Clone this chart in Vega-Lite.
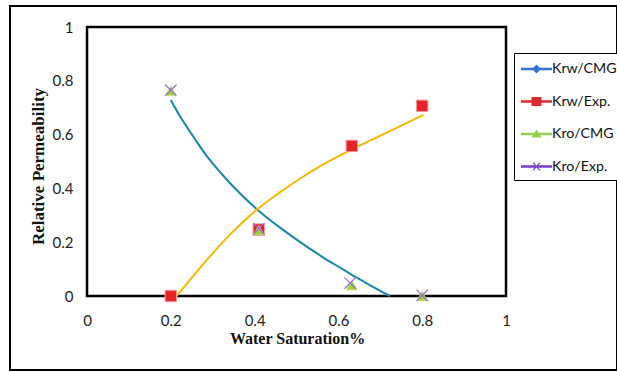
{
  "$schema": "https://vega.github.io/schema/vega-lite/v6.json",
  "width": 607,
  "height": 364,
  "autosize": "none",
  "padding": {"left": 10, "top": 6, "right": 0, "bottom": 2},
  "background": "white",
  "config": {
    "view": {"stroke": "#000", "strokeWidth": 2, "fill": "white"},
    "axis": {"grid": false, "domain": false, "ticks": false}
  },
  "datasets": {
    "frame": [{"sw": 0, "swEnd": 1, "kr": 0, "krEnd": 1}],
    "curves": [
      {"curve": "Kro", "sw": 0.200, "kr": 0.729},
      {"curve": "Kro", "sw": 0.222, "kr": 0.668},
      {"curve": "Kro", "sw": 0.254, "kr": 0.592},
      {"curve": "Kro", "sw": 0.286, "kr": 0.520},
      {"curve": "Kro", "sw": 0.318, "kr": 0.460},
      {"curve": "Kro", "sw": 0.350, "kr": 0.405},
      {"curve": "Kro", "sw": 0.406, "kr": 0.322},
      {"curve": "Kro", "sw": 0.460, "kr": 0.255},
      {"curve": "Kro", "sw": 0.508, "kr": 0.201},
      {"curve": "Kro", "sw": 0.564, "kr": 0.143},
      {"curve": "Kro", "sw": 0.610, "kr": 0.100},
      {"curve": "Kro", "sw": 0.644, "kr": 0.068},
      {"curve": "Kro", "sw": 0.680, "kr": 0.036},
      {"curve": "Kro", "sw": 0.723, "kr": 0.000},
      {"curve": "Krw", "sw": 0.214, "kr": 0.000},
      {"curve": "Krw", "sw": 0.254, "kr": 0.075},
      {"curve": "Krw", "sw": 0.294, "kr": 0.148},
      {"curve": "Krw", "sw": 0.341, "kr": 0.228},
      {"curve": "Krw", "sw": 0.406, "kr": 0.322},
      {"curve": "Krw", "sw": 0.461, "kr": 0.386},
      {"curve": "Krw", "sw": 0.508, "kr": 0.436},
      {"curve": "Krw", "sw": 0.564, "kr": 0.489},
      {"curve": "Krw", "sw": 0.632, "kr": 0.545},
      {"curve": "Krw", "sw": 0.723, "kr": 0.613},
      {"curve": "Krw", "sw": 0.803, "kr": 0.673}
    ],
    "points": [
      {"series": "Krw/CMG", "sw": 0.2, "kr": 0.0},
      {"series": "Krw/CMG", "sw": 0.41, "kr": 0.245},
      {"series": "Krw/CMG", "sw": 0.63, "kr": 0.555},
      {"series": "Krw/CMG", "sw": 0.8, "kr": 0.705},
      {"series": "Krw/Exp.", "sw": 0.2, "kr": 0.0},
      {"series": "Krw/Exp.", "sw": 0.41, "kr": 0.247},
      {"series": "Krw/Exp.", "sw": 0.632, "kr": 0.558},
      {"series": "Krw/Exp.", "sw": 0.8, "kr": 0.707},
      {"series": "Kro/CMG", "sw": 0.2, "kr": 0.763},
      {"series": "Kro/CMG", "sw": 0.41, "kr": 0.245},
      {"series": "Kro/CMG", "sw": 0.632, "kr": 0.04},
      {"series": "Kro/CMG", "sw": 0.8, "kr": 0.0},
      {"series": "Kro/Exp.", "sw": 0.2, "kr": 0.765},
      {"series": "Kro/Exp.", "sw": 0.41, "kr": 0.25},
      {"series": "Kro/Exp.", "sw": 0.628, "kr": 0.048},
      {"series": "Kro/Exp.", "sw": 0.8, "kr": 0.002}
    ]
  },
  "encoding": {
    "x": {
      "field": "sw",
      "type": "quantitative",
      "title": "Water Saturation%",
      "scale": {"domain": [-0.1838, 1.2649], "nice": false, "zero": false},
      "axis": {
        "values": [0, 0.2, 0.4, 0.6, 0.8, 1],
        "format": "~g",
        "offset": -74,
        "labelFont": "Lato",
        "labelFontSize": 15,
        "labelColor": "#222",
        "labelPadding": 17,
        "titleFont": "Liberation Serif",
        "titleFontSize": 16,
        "titleFontWeight": "bold",
        "titleColor": "#111",
        "titleX": 287,
        "titleY": 42,
        "titleBaseline": "middle",
        "titleAlign": "center"
      }
    },
    "y": {
      "field": "kr",
      "type": "quantitative",
      "title": "Relative Permeability",
      "scale": {"domain": [-0.2751, 1.0781], "nice": false, "zero": false},
      "axis": {
        "values": [0, 0.2, 0.4, 0.6, 0.8, 1],
        "format": "~g",
        "offset": -77,
        "labelFont": "Lato",
        "labelFontSize": 15,
        "labelColor": "#222",
        "labelPadding": 14,
        "titleFont": "Liberation Serif",
        "titleFontSize": 17,
        "titleFontWeight": "bold",
        "titleColor": "#111",
        "titleX": -49,
        "titleY": 160,
        "titleAngle": -90,
        "titleBaseline": "middle",
        "titleAlign": "center"
      }
    }
  },
  "layer": [
    {
      "data": {"name": "frame"},
      "mark": {"type": "rect", "fill": null, "stroke": "#000", "strokeWidth": 2.5},
      "encoding": {"x2": {"field": "swEnd"}, "y2": {"field": "krEnd"}}
    },
    {
      "data": {"name": "curves"},
      "transform": [{"filter": "datum.curve === 'Kro'"}],
      "mark": {"type": "line", "color": "#1789A6", "strokeWidth": 2, "interpolate": "monotone"}
    },
    {
      "data": {"name": "curves"},
      "transform": [{"filter": "datum.curve === 'Krw'"}],
      "mark": {"type": "line", "color": "#F5B800", "strokeWidth": 2, "interpolate": "monotone"}
    },
    {
      "data": {"name": "points"},
      "transform": [{"filter": "datum.series === 'Krw/CMG'"}],
      "mark": {"type": "point", "shape": "diamond", "filled": true, "color": "#2E75D6", "size": 50, "opacity": 1}
    },
    {
      "data": {"name": "points"},
      "transform": [{"filter": "datum.series === 'Krw/Exp.'"}],
      "mark": {"type": "point", "shape": "square", "filled": true, "fill": "#E82328", "stroke": "#F29A9A", "strokeWidth": 1, "size": 130, "opacity": 1}
    },
    {
      "data": {"name": "points"},
      "transform": [{"filter": "datum.series === 'Kro/CMG'"}],
      "mark": {"type": "point", "shape": "triangle-up", "filled": true, "fill": "#9FD42C", "stroke": "#B5D86A", "strokeWidth": 0.8, "size": 110, "opacity": 1}
    },
    {
      "data": {"name": "points"},
      "transform": [{"filter": "datum.series === 'Kro/Exp.'"}],
      "mark": {"type": "point", "shape": "M-1,-1L1,1M-1,1L1,-1", "filled": false, "stroke": "#9A6BE0", "strokeWidth": 1.2, "size": 130, "opacity": 1}
    },
    {
      "data": {"name": "points"},
      "mark": {"type": "point", "filled": true, "size": 400, "opacity": 0},
      "encoding": {
        "shape": {
          "field": "series",
          "type": "nominal",
          "scale": {
            "domain": ["Krw/CMG", "Krw/Exp.", "Kro/CMG", "Kro/Exp."],
            "range": [
              "M-0.9,-0.13H2.2V0.13H-0.9ZM0.2,0L0.65,-0.45L1.1,0L0.65,0.45Z",
              "M-0.9,-0.13H2.2V0.13H-0.9ZM0.15,-0.45H1.15V0.45H0.15Z",
              "M-0.9,-0.13H2.2V0.13H-0.9ZM0.65,-0.45L1.15,0.35H0.15Z",
              "M-0.9,-0.13H2.2V0.13H-0.9ZM0.3,-0.4L0.38,-0.4L1,0.32L1,0.4L0.92,0.4L0.3,-0.32ZM1,-0.4L1,-0.32L0.38,0.4L0.3,0.4L0.3,0.32L0.92,-0.4Z"
            ]
          },
          "legend": {
            "title": null,
            "orient": "none",
            "legendX": 504,
            "legendY": 47,
            "padding": 6,
            "rowPadding": 14.5,
            "labelOffset": 12,
            "strokeColor": "#000",
            "fillColor": "#fff",
            "symbolOpacity": 1,
            "symbolStrokeWidth": 0,
            "symbolSize": 400,
            "labelFont": "Lato",
            "labelFontSize": 14.2,
            "labelColor": "#111",
            "labelLimit": 200,
            "encode": {"legend": {"update": {"strokeWidth": {"value": 2}}}}
          }
        },
        "color": {
          "field": "series",
          "type": "nominal",
          "scale": {
            "domain": ["Krw/CMG", "Krw/Exp.", "Kro/CMG", "Kro/Exp."],
            "range": ["#2E75D6", "#E02A2E", "#92D050", "#7A3FC8"]
          }
        }
      }
    }
  ]
}
